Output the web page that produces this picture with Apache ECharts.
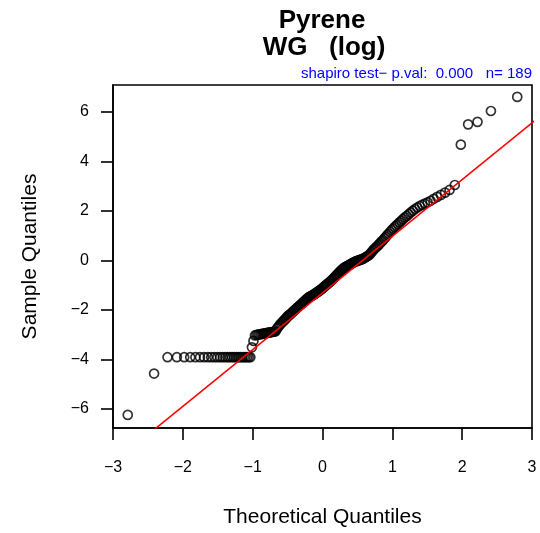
<!DOCTYPE html>
<html>
<head>
<meta charset="utf-8">
<script src="https://cdn.jsdelivr.net/npm/echarts@6/dist/echarts.min.js"></script>
<style>
html, body { margin: 0; padding: 0; background: #fff; }
#chart { width: 540px; height: 533px; }
</style>
</head>
<body>
<div id="chart"></div>
<script>
// sorted sample values (log Pyrene, WG)
var lowerTail = [
  -6.24, -4.57,
  -3.91, -3.91, -3.91, -3.91, -3.91, -3.91, -3.91, -3.91, -3.91,
  -3.91, -3.91, -3.91, -3.91, -3.91, -3.91, -3.91, -3.91, -3.91,
  -3.91, -3.91, -3.91, -3.91, -3.91, -3.91, -3.91, -3.91, -3.91,
  -3.51, -3.25, -3.03, -3.01, -3.00, -2.99, -2.98, -2.97, -2.96, -2.95,
  -2.94, -2.93, -2.92, -2.91, -2.90, -2.89, -2.88, -2.87, -2.86
];
var middle = [
  -2.76, -2.70, -2.64, -2.58, -2.54, -2.49, -2.44, -2.40, -2.35, -2.31,
  -2.25, -2.22, -2.19, -2.14, -2.11, -2.07, -2.03, -2.00, -1.96, -1.92,
  -1.88, -1.85, -1.81, -1.78, -1.75, -1.70, -1.67, -1.63, -1.60, -1.56,
  -1.53, -1.50, -1.47, -1.45, -1.43, -1.41, -1.39, -1.37, -1.34, -1.31,
  -1.29, -1.26, -1.24, -1.21, -1.18, -1.15, -1.12, -1.09, -1.05, -1.02,
  -0.99, -0.96, -0.93, -0.90, -0.86, -0.83, -0.79, -0.76, -0.72, -0.68,
  -0.64, -0.60, -0.56, -0.52, -0.48, -0.44, -0.40, -0.37, -0.33, -0.30,
  -0.27, -0.25, -0.23, -0.21, -0.18, -0.16, -0.14, -0.11, -0.09, -0.07,
  -0.05, -0.03, -0.02, 0.00, 0.01, 0.03, 0.04, 0.06, 0.08, 0.11,
  0.14, 0.17, 0.19, 0.23
];
var upperTail = [
  0.28, 0.34, 0.40, 0.45, 0.50, 0.55, 0.60, 0.65,
  0.71, 0.77, 0.82, 0.89, 0.95, 1.02, 1.08, 1.15, 1.22, 1.28,
  1.35, 1.41, 1.47, 1.54, 1.60, 1.67, 1.74, 1.80, 1.87, 1.94,
  2.01, 2.08, 2.14, 2.20, 2.25, 2.30, 2.35, 2.41, 2.49, 2.57,
  2.65, 2.74, 2.85, 3.05, 4.68, 5.50, 5.60, 6.04, 6.61
];
var xTicks = [-3, -2, -1, 0, 1, 2, 3];
var yTicks = [-6, -4, -2, 0, 2, 4, 6];
var titleLines = ['Pyrene', 'WG   (log)'];
var testNote = 'shapiro test\u2212 p.val:  0.000   n= 189';

var sample = lowerTail.concat(middle, upperTail);
var n = sample.length;

// inverse normal cdf (Acklam)
function qnorm(p) {
  var a = [-39.69683028665376, 220.9460984245205, -275.9285104469687, 138.3577518672690, -30.66479806614716, 2.506628277459239];
  var b = [-54.47609879822406, 161.5858368580409, -155.6989798598866, 66.80131188771972, -13.28068155288572];
  var c = [-0.007784894002430293, -0.3223964580411365, -2.400758277161838, -2.549732539343734, 4.374664141464968, 2.938163982698783];
  var d = [0.007784695709041462, 0.3224671290700398, 2.445134137142996, 3.754408661907416];
  var q, r;
  if (p < 0.02425) {
    q = Math.sqrt(-2 * Math.log(p));
    return (((((c[0]*q+c[1])*q+c[2])*q+c[3])*q+c[4])*q+c[5]) / ((((d[0]*q+d[1])*q+d[2])*q+d[3])*q+1);
  }
  if (p > 1 - 0.02425) {
    q = Math.sqrt(-2 * Math.log(1 - p));
    return -(((((c[0]*q+c[1])*q+c[2])*q+c[3])*q+c[4])*q+c[5]) / ((((d[0]*q+d[1])*q+d[2])*q+d[3])*q+1);
  }
  q = p - 0.5; r = q * q;
  return (((((a[0]*r+a[1])*r+a[2])*r+a[3])*r+a[4])*r+a[5])*q / (((((b[0]*r+b[1])*r+b[2])*r+b[3])*r+b[4])*r+1);
}

function quantile(v, prob) {
  var h = (v.length - 1) * prob, lo = Math.floor(h);
  return lo + 1 < v.length ? v[lo] + (h - lo) * (v[lo + 1] - v[lo]) : v[lo];
}

// theoretical quantiles like ppoints(n)
var points = sample.map(function (y, i) { return [qnorm((i + 0.5) / n), y]; });

// qqline through the quartiles
var q1 = quantile(sample, 0.25), q3 = quantile(sample, 0.75);
var slope = (q3 - q1) / (qnorm(0.75) - qnorm(0.25));
var icpt = q1 - slope * qnorm(0.25);
var qqline = [[-3.2, icpt - 3.2 * slope], [3.2, icpt + 3.2 * slope]];

var font = '"Liberation Sans", Arial, Helvetica, sans-serif';
var minus = function (v) { return String(v).replace('-', '\u2212'); };
var black = { color: '#000', width: 1.6 };

var myChart = echarts.init(document.getElementById('chart'));
var option = {
  animation: false,
  backgroundColor: '#fff',
  grid: {
    left: 113, right: 8, top: 85, bottom: 105,
    show: true, borderColor: '#000', borderWidth: 1.6,
    outerBoundsMode: 'none'
  },
  graphic: [
    { type: 'text', x: 322, y: 21, style: { text: titleLines[0], font: 'bold 26px ' + font, fill: '#000', textAlign: 'center', textVerticalAlign: 'middle' } },
    { type: 'text', x: 324, y: 48, style: { text: titleLines[1], font: 'bold 26px ' + font, fill: '#000', textAlign: 'center', textVerticalAlign: 'middle' } },
    { type: 'text', x: 532, y: 74, style: { text: testNote, font: '15px ' + font, fill: '#0000ff', textAlign: 'right', textVerticalAlign: 'middle' } }
  ],
  xAxis: {
    type: 'value', min: -3, max: 3, interval: 1,
    name: 'Theoretical Quantiles', nameLocation: 'middle', nameGap: 79,
    nameTextStyle: { color: '#000', fontSize: 21, fontFamily: font },
    splitLine: { show: false },
    axisLine: { show: true, onZero: false, lineStyle: black },
    axisTick: { show: true, inside: false, length: 12, lineStyle: black },
    axisLabel: { margin: 32, color: '#000', fontSize: 16, fontFamily: font, formatter: minus, showMinLabel: true, showMaxLabel: true }
  },
  yAxis: {
    type: 'value', min: -6.77, max: 7.09,
    name: 'Sample Quantiles', nameLocation: 'middle', nameGap: 72,
    nameTextStyle: { color: '#000', fontSize: 21, fontFamily: font },
    splitLine: { show: false },
    axisLine: { show: true, onZero: false, lineStyle: black },
    axisTick: { show: true, inside: false, length: 12, lineStyle: black, customValues: yTicks },
    axisLabel: { margin: 24, color: '#000', fontSize: 16, fontFamily: font, formatter: minus, customValues: yTicks }
  },
  series: [
    {
      type: 'scatter',
      data: points,
      symbol: 'circle',
      symbolSize: 9,
      itemStyle: { color: 'rgba(0,0,0,0)', borderColor: '#000', borderWidth: 1.7 },
      emphasis: { disabled: true },
      silent: true
    },
    {
      type: 'line',
      data: qqline,
      showSymbol: false,
      clip: true,
      lineStyle: { color: '#ff0000', width: 1.6 },
      silent: true,
      z: 3
    }
  ]
};

option && myChart.setOption(option);

window.onresize = function () {
  myChart.resize();
};
</script>
</body>
</html>
